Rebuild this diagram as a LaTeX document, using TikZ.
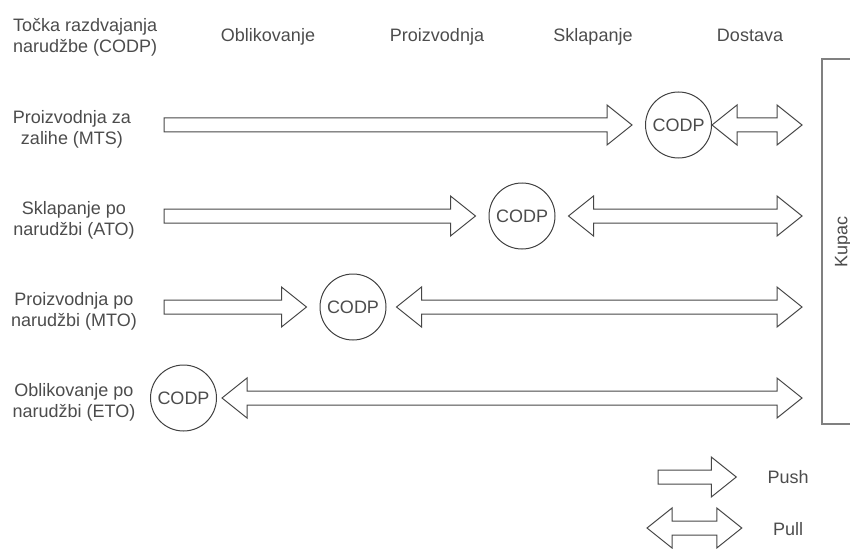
\documentclass[tikz,border=0pt]{standalone}
\usepackage{fontspec}
\setmainfont{Liberation Sans}
\usepackage{tikz}
\usetikzlibrary{positioning}
\usetikzlibrary{calc}

\tikzset{
  lbl/.style={font=\fontsize{18}{21}\selectfont, text=black!70, inner sep=0pt},
  rowlbl/.style={lbl, align=center},
  codp/.style={lbl, draw=black!75, circle, minimum size=66pt, line width=1pt},
  blk/.style={draw=black!72, line width=1pt, line join=miter},
  kupline/.style={draw=black!50, line width=1.2pt},
}

% push arrow: tail #1, tip #2
\newcommand{\pusharrow}[2]{%
  \draw[blk] ($(#1)+(0,-7)$) -- ($(#2)+(-25,-7)$) -- ($(#2)+(-25,-20)$) -- (#2)
    -- ($(#2)+(-25,20)$) -- ($(#2)+(-25,7)$) -- ($(#1)+(0,7)$) -- cycle;}

% pull arrow: left tip #1, right tip #2
\newcommand{\pullarrow}[2]{%
  \draw[blk] (#1) -- ($(#1)+(25,-20)$) -- ($(#1)+(25,-7)$) -- ($(#2)+(-25,-7)$)
    -- ($(#2)+(-25,-20)$) -- (#2) -- ($(#2)+(-25,20)$) -- ($(#2)+(-25,7)$)
    -- ($(#1)+(25,7)$) -- ($(#1)+(25,20)$) -- cycle;}

\begin{document}
\begin{tikzpicture}[x=1pt,y=-1pt]
\useasboundingbox (0,0) rectangle (850,548);

% HEADER %
{
\node[lbl, align=left, anchor=west] (tocka) at (13,37)
{To\v{c}ka razdvajanja\\narud\v{z}be (CODP)};
\node[lbl, anchor=base] (obl) at (268,42) {Oblikovanje};
\node[lbl, anchor=base] (pro) at (437,42) {Proizvodnja};
\node[lbl, anchor=base] (skl) at (593,42) {Sklapanje};
\node[lbl, anchor=base] (dos) at (750,42) {Dostava};
}

% kupac
{
\draw[kupline] (870,59) -| (822,424) -- (870,424);
\coordinate (kupL) at (822,241);
\node[lbl, rotate=90] (kupac) at (843,242) {Kupac};
}

%%%%%%%%%%%%  rows %%%%%%%%%%%%%
% MTS
{
\node[rowlbl] (mts) at (72,129) {Proizvodnja za\\zalihe (MTS)};
\node[codp] (codp1) at (678.5,125) {CODP};
\coordinate (s1) at (164,125);
\coordinate (p1) at ([xshift=-13pt]codp1.west);
\coordinate (q1) at (codp1.east);
\coordinate (e1) at ($(kupL |- codp1)+(-20,0)$);
\pusharrow{s1}{p1}
\pullarrow{q1}{e1}
}

% ATO
{
\node[rowlbl] (ato) at (74,220) {Sklapanje po\\narud\v{z}bi (ATO)};
\node[codp] (codp2) at (522,216) {CODP};
\coordinate (s2) at (164,216);
\coordinate (p2) at ([xshift=-13pt]codp2.west);
\coordinate (q2) at ([xshift=13pt]codp2.east);
\coordinate (e2) at ($(kupL |- codp2)+(-20,0)$);
\pusharrow{s2}{p2}
\pullarrow{q2}{e2}
}

% MTO
{
\node[rowlbl] (mto) at (74,311) {Proizvodnja po\\narud\v{z}bi (MTO)};
\node[codp] (codp3) at (353,307) {CODP};
\coordinate (s3) at (164,307);
\coordinate (p3) at ([xshift=-13pt]codp3.west);
\coordinate (q3) at ([xshift=10pt]codp3.east);
\coordinate (e3) at ($(kupL |- codp3)+(-20,0)$);
\pusharrow{s3}{p3}
\pullarrow{q3}{e3}
}

% ETO
{
\node[rowlbl] (eto) at (74,402) {Oblikovanje po\\narud\v{z}bi (ETO)};
\node[codp] (codp4) at (183.5,398) {CODP};
\coordinate (q4) at ([xshift=5pt]codp4.east);
\coordinate (e4) at ($(kupL |- codp4)+(-20,0)$);
\pullarrow{q4}{e4}
}

% LEGEND %
{
\node[lbl] (push) at (788,477) {Push};
\node[lbl] (pull) at (788,529) {Pull};
\coordinate (ls) at (658,477);
\coordinate (lt) at ([xshift=-31pt]push.west);
\coordinate (ml) at (647,528);
\coordinate (mr) at ([xshift=-31pt]pull.west |- ml);
\pusharrow{ls}{lt}
\pullarrow{ml}{mr}
}

\end{tikzpicture}
\end{document}
